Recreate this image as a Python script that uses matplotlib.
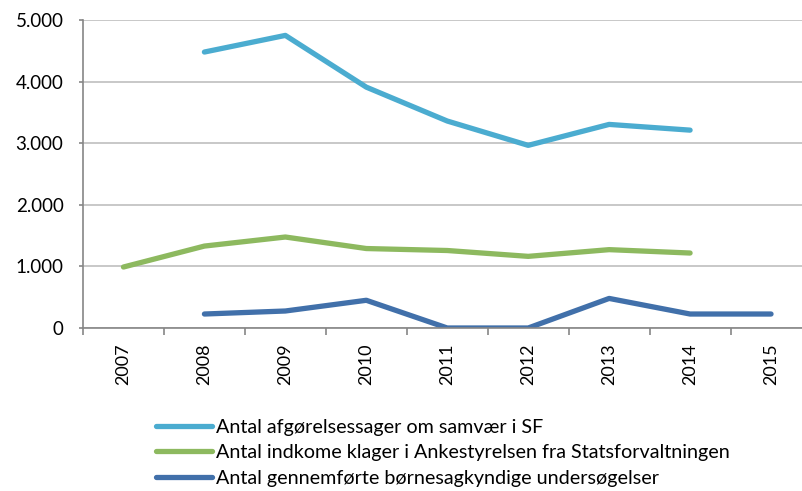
import numpy as np
import matplotlib.pyplot as plt
from matplotlib.ticker import FuncFormatter, FixedLocator

years = ['2007', '2008', '2009', '2010', '2011', '2012', '2013', '2014', '2015']
afgoerelser = [np.nan, 4480, 4750, 3910, 3360, 2965, 3305, 3212, np.nan]
klager = [990, 1330, 1477, 1290, 1258, 1163, 1272, 1217, np.nan]
undersoegelser = [np.nan, 227, 276, 450, 0, 0, 480, 227, 227]

labels = ['Antal afgørelsessager om samvær i SF',
          'Antal indkome klager i Ankestyrelsen fra Statsforvaltningen',
          'Antal gennemførte børnesagkyndige undersøgelser']
colors = ['#4BACD0', '#8DB95F', '#4170AA']

plt.rcParams['font.family'] = ['Lato', 'DejaVu Sans']

fig = plt.figure(figsize=(8.02, 4.91), dpi=100)
ax = fig.add_axes([83 / 802, 1 - 328 / 491, 728.5 / 802, 308 / 491])

x = np.arange(len(years))
for vals, lab, col in zip([afgoerelser, klager, undersoegelser], labels, colors):
    ax.plot(x, vals, color=col, lw=3.8, label=lab,
            solid_capstyle='round', solid_joinstyle='round')

ax.set_xlim(-0.5, len(years) - 0.5)
ax.set_ylim(0, 5000)
ax.set_yticks(np.arange(0, 5001, 1000))
ax.yaxis.set_major_formatter(FuncFormatter(lambda v, p: f'{int(v):,}'.replace(',', '.')))
ax.grid(axis='y', color='#BFBFBF', lw=1.2)
ax.set_axisbelow(True)

ax.set_xticks(x)
ax.set_xticklabels(years, rotation=90)
ax.xaxis.set_minor_locator(FixedLocator(np.arange(-0.5, len(years), 1)))
ax.tick_params(axis='x', which='major', length=0, pad=11, labelsize=13)
ax.tick_params(axis='x', which='minor', length=5, color='#868686', width=1.2)
ax.tick_params(axis='y', length=3, color='#868686', width=1.2, pad=11, labelsize=13.5)

for s in ['top', 'right']:
    ax.spines[s].set_visible(False)
for s in ['left', 'bottom']:
    ax.spines[s].set_color('#868686')
    ax.spines[s].set_linewidth(1.2)

fig.legend(loc='upper left', bbox_to_anchor=(156 / 802, 1 - 419 / 491),
           frameon=False, fontsize=14.2, handlelength=2.84, handletextpad=0.2,
           labelspacing=0.42, borderpad=0, borderaxespad=0)

fig.savefig('out.png', dpi=100)
